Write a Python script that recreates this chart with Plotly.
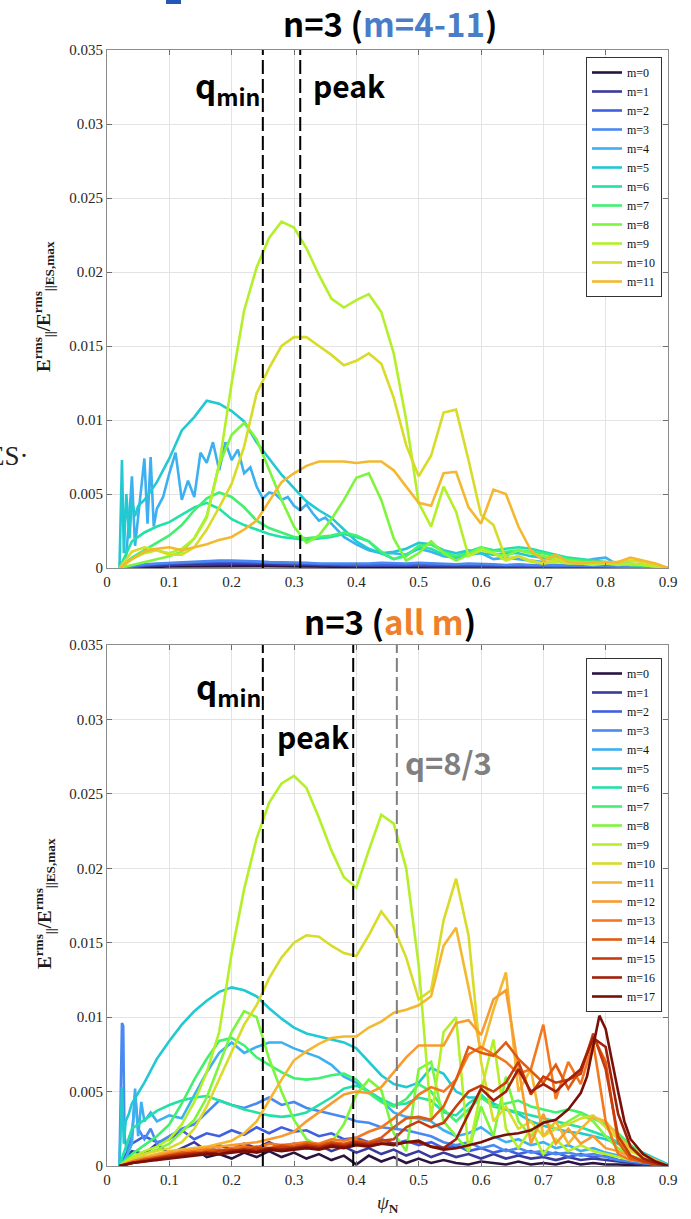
import plotly.graph_objects as go

# ---------------- data (values in units of 1e-3) ----------------
PSI = [0.02, 0.04, 0.06, 0.08, 0.10, 0.12, 0.14, 0.16, 0.18, 0.20, 0.22, 0.24, 0.26, 0.28, 0.30,
       0.32, 0.34, 0.36, 0.38, 0.40, 0.42, 0.44, 0.46, 0.48, 0.50, 0.52, 0.54, 0.56, 0.58, 0.60,
       0.62, 0.64, 0.66, 0.68, 0.70, 0.72, 0.74, 0.76, 0.78, 0.80, 0.82, 0.84, 0.86, 0.88, 0.90]

# ---- top panel: n=3 (m=4-11) ----
TOP_M0 = [0, 0.04, 0.06, 0.08, 0.1, 0.11, 0.12, 0.13, 0.14, 0.14, 0.13, 0.12, 0.12, 0.11, 0.1, 0.1, 0.09, 0.08, 0.08, 0.07, 0.07, 0.08, 0.07, 0.07, 0.08, 0.07, 0.06, 0.06, 0.06, 0.06, 0.05, 0.05, 0.05, 0.04, 0.04, 0.04, 0.04, 0.03, 0.03, 0.03, 0.02, 0.02, 0.01, 0.01, 0]
TOP_M1 = [0, 0.08, 0.12, 0.15, 0.2, 0.22, 0.25, 0.28, 0.3, 0.3, 0.28, 0.26, 0.24, 0.22, 0.2, 0.2, 0.18, 0.16, 0.15, 0.14, 0.15, 0.16, 0.14, 0.13, 0.15, 0.13, 0.12, 0.12, 0.13, 0.12, 0.1, 0.1, 0.1, 0.09, 0.08, 0.08, 0.08, 0.07, 0.07, 0.06, 0.05, 0.04, 0.03, 0.02, 0]
TOP_M2 = [0, 0.1, 0.2, 0.25, 0.3, 0.35, 0.38, 0.4, 0.42, 0.42, 0.4, 0.38, 0.35, 0.32, 0.3, 0.28, 0.26, 0.25, 0.22, 0.2, 0.22, 0.25, 0.22, 0.2, 0.25, 0.22, 0.2, 0.18, 0.2, 0.2, 0.18, 0.15, 0.18, 0.15, 0.15, 0.12, 0.15, 0.12, 0.12, 0.1, 0.08, 0.06, 0.04, 0.03, 0]
TOP_M3 = [0, 0.15, 0.25, 0.3, 0.35, 0.4, 0.45, 0.5, 0.5, 0.5, 0.5, 0.45, 0.4, 0.4, 0.35, 0.35, 0.3, 0.3, 0.25, 0.25, 0.3, 0.35, 0.3, 0.3, 0.35, 0.3, 0.3, 0.25, 0.3, 0.3, 0.25, 0.2, 0.25, 0.2, 0.2, 0.15, 0.2, 0.15, 0.2, 0.15, 0.1, 0.1, 0.05, 0.05, 0]
TOP_M4_PSI = ([0.02, 0.03, 0.035, 0.04, 0.045, 0.05, 0.055, 0.06, 0.065, 0.07, 0.075, 0.08,
               0.09, 0.10, 0.11, 0.12, 0.13, 0.14, 0.15, 0.16, 0.17, 0.18, 0.19, 0.20, 0.21, 0.22,
               0.23, 0.24, 0.25, 0.26, 0.27, 0.28, 0.29, 0.30, 0.31, 0.32, 0.33, 0.34, 0.35, 0.36]
              + PSI[18:])
TOP_M4 = [0, 0.5, 3.0, 6.2, 1.5, 3.5, 5.5, 7.4, 3.0, 7.5, 2.8, 4.0,
          4.8, 6.4, 7.8, 4.6, 5.9, 4.8, 7.8, 7.1, 8.5, 6.6, 8.5, 7.3, 8.0, 6.4, 6.8, 5.5, 4.7, 5.1,
          5.0, 4.6, 4.8, 4.2, 3.9, 4.3, 3.7, 3.2, 3.4, 3.0,
          2.1, 1.6, 1.2, 1.0, 1.0, 0.9, 1.3, 1.1, 0.8, 0.7, 0.9, 1.0, 0.6, 0.7, 0.6, 0.5, 0.4, 0.4,
          0.5, 0.4, 0.6, 0.7, 0.2, 0.2, 0.1, 0.1, 0]
TOP_M5_PSI = [0.02, 0.024, 0.027, 0.031, 0.036, 0.04, 0.045, 0.05, 0.06] + PSI[3:]
TOP_M5 = [0, 7.3, 1.0, 5.0, 2.0, 4.5, 3.5, 4.2, 4.6,
          5.8, 7.4, 9.3, 10.2, 11.3, 11.1, 10.6, 9.9, 8.5, 7.4, 6.3, 5.4, 4.5, 3.9, 3.4, 2.6, 1.8,
          1.3, 1.0, 1.1, 1.3, 1.7, 1.6, 1.2, 1.0, 1.2, 1.0, 0.9, 1.0, 1.0, 0.8, 0.7, 0.6, 0.5, 0.4,
          0.4, 0.3, 0.3, 0.2, 0.2, 0.1, 0]
TOP_M6 = [0, 1.8, 2.4, 2.8, 3.1, 3.6, 4.1, 4.4, 4.0, 3.3, 2.9, 2.6, 2.3, 2.1, 2.0, 1.9, 2.0, 2.1, 2.3, 2.1, 1.8, 1.0, 0.6, 0.9, 1.4, 1.3, 0.9, 0.8, 1.1, 1.4, 1.2, 1.3, 1.4, 1.3, 1.1, 0.9, 0.7, 0.6, 0.5, 0.4, 0.3, 0.3, 0.2, 0.1, 0]
TOP_M7 = [0, 0.7, 1.2, 1.7, 2.2, 2.9, 3.9, 4.7, 5.1, 4.8, 4.1, 3.2, 2.7, 2.4, 2.1, 2.0, 2.1, 2.2, 2.4, 2.2, 1.8, 1.1, 0.6, 0.8, 1.5, 1.6, 1.1, 0.8, 1.0, 1.3, 1.2, 1.1, 1.2, 1.1, 1.0, 0.8, 0.6, 0.5, 0.4, 0.3, 0.3, 0.2, 0.2, 0.1, 0]
TOP_M8 = [0, 0.2, 0.4, 0.6, 0.8, 1.1, 2.0, 3.5, 7.0, 9.0, 9.8, 8.7, 6.7, 4.6, 2.8, 1.7, 2.2, 3.3, 4.6, 6.1, 6.4, 4.6, 2.0, 0.5, 1.0, 1.8, 1.0, 0.5, 0.9, 1.4, 1.0, 0.8, 1.2, 1.0, 0.8, 0.6, 0.5, 0.4, 0.3, 0.3, 0.3, 0.2, 0.2, 0.1, 0]
TOP_M9 = [0, 0.6, 1.0, 1.2, 1.0, 1.3, 2.0, 3.4, 7.0, 12.5, 17.4, 20.3, 22.3, 23.4, 23.0, 21.6, 19.8, 18.2, 17.6, 18.1, 18.5, 17.3, 14.5, 10.0, 4.4, 2.8, 5.5, 3.8, 0.8, 1.2, 1.0, 0.5, 0.8, 0.4, 0.3, 0.4, 0.3, 0.3, 0.2, 0.3, 0.2, 0.3, 0.2, 0.1, 0]
TOP_M10 = [0, 1.1, 1.4, 1.2, 0.9, 0.9, 1.4, 2.6, 4.1, 5.7, 8.2, 11.8, 13.5, 15.0, 15.6, 15.6, 15.0, 14.4, 13.7, 14.0, 14.5, 13.8, 11.5, 8.3, 6.2, 7.6, 10.5, 10.7, 7.3, 3.6, 2.9, 0.6, 0.8, 0.5, 0.3, 0.6, 0.4, 0.3, 0.4, 0.3, 0.4, 0.5, 0.4, 0.2, 0]
TOP_M11 = [0, 0.6, 1.1, 1.3, 1.4, 1.2, 1.4, 1.6, 1.9, 2.1, 2.6, 3.2, 4.5, 5.8, 6.4, 6.9, 7.2, 7.2, 7.2, 7.1, 7.2, 7.2, 6.6, 5.5, 4.4, 4.2, 6.4, 6.5, 4.1, 3.0, 5.3, 5.0, 2.8, 1.2, 0.5, 0.9, 0.4, 0.3, 0.4, 0.4, 0.4, 0.7, 0.5, 0.3, 0]

# ---- bottom panel: n=3 (all m) ----
BOT_M0 = [0, 0.3, 0.5, 0.4, 0.6, 0.9, 1.2, 0.6, 0.8, 0.5, 0.9, 0.6, 1.0, 0.6, 0.9, 0.5, 0.8, 0.4, 0.7, 0.1, 0.7, 0.3, 0.6, 0.2, 0.5, 0.2, 0.4, 0.2, 0.1, 0.3, 0.2, 0.1, 0.3, 0.1, 0.2, 0.1, 0.3, 0.1, 0.2, 0.1, 0.1, 0.05, 0.05, 0, 0]
BOT_M1 = [0, 1.0, 0.8, 1.5, 0.8, 1.2, 1.6, 1.0, 1.4, 1.1, 1.5, 1.2, 1.6, 1.2, 1.5, 1.2, 1.4, 1.0, 1.3, 0.9, 1.2, 0.8, 1.1, 0.7, 1.0, 0.6, 0.9, 0.6, 0.8, 0.5, 0.8, 0.5, 0.7, 0.5, 0.6, 0.4, 0.6, 0.4, 0.5, 0.4, 0.3, 0.2, 0.1, 0.1, 0]
BOT_M2 = [0, 1.5, 2.0, 1.6, 1.8, 2.4, 1.8, 2.2, 2.0, 2.4, 2.1, 2.6, 2.2, 2.6, 2.3, 2.4, 2.0, 2.2, 1.8, 1.9, 1.6, 1.8, 1.5, 1.7, 1.4, 1.6, 1.2, 1.4, 1.0, 1.2, 0.9, 1.1, 0.8, 1.0, 0.7, 0.9, 0.6, 0.8, 0.6, 0.7, 0.4, 0.3, 0.2, 0.1, 0]
BOT_M3_PSI = [0.02, 0.024, 0.026, 0.028, 0.032, 0.036, 0.04, 0.045, 0.05, 0.06, 0.07, 0.08] + PSI[4:]
BOT_M3 = [0, 9.6, 9.4, 2.0, 1.0, 1.5, 2.0, 4.8, 2.5, 1.8, 2.5, 1.5,
          2.0, 2.5, 2.8, 3.6, 4.4, 4.1, 3.9, 4.2, 4.6, 4.1, 4.3, 3.9, 3.7, 3.5, 3.3, 3.0, 2.9, 2.6,
          2.5, 2.4, 2.2, 2.0, 1.6, 1.4, 1.6, 1.2, 1.4, 1.0, 1.2, 0.9, 1.0, 0.8, 0.9, 0.7, 0.8, 0.6,
          0.4, 0.3, 0.2, 0.1, 0]
BOT_M4_PSI = [0.02, 0.03, 0.04, 0.045, 0.05, 0.055, 0.06, 0.07, 0.08] + PSI[4:]
BOT_M4 = [0, 0.5, 1.5, 5.2, 2.0, 4.3, 3.0, 3.6, 3.0,
          3.4, 3.2, 4.8, 6.3, 7.6, 8.3, 7.6, 8.0, 8.3, 8.3, 7.9, 7.6, 7.3, 6.8, 6.0, 5.6, 5.0, 4.4,
          3.6, 3.3, 3.2, 3.0, 2.4, 2.0, 2.2, 2.6, 2.0, 1.6, 1.8, 1.4, 1.6, 1.2, 1.4, 1.0, 1.2, 0.9,
          0.7, 0.4, 0.3, 0.2, 0]
BOT_M5_PSI = [0.02, 0.024, 0.027, 0.03, 0.035, 0.04] + PSI[2:]
BOT_M5 = [0, 5.3, 1.5, 3.0, 3.5, 4.2,
          5.6, 7.2, 8.4, 9.5, 10.4, 11.1, 11.7, 12.0, 11.8, 11.4, 10.6, 9.9, 9.3, 8.9, 8.7, 8.5,
          8.3, 7.9, 7.0, 6.1, 5.5, 5.3, 5.6, 6.6, 6.2, 5.0, 4.6, 4.6, 4.2, 3.8, 3.5, 3.0, 2.7, 2.5,
          2.3, 2.2, 2.0, 1.8, 1.5, 1.2, 0.9, 0.5, 0.1]
BOT_M6 = [0, 2.5, 3.1, 3.7, 4.1, 4.4, 4.6, 4.7, 4.4, 4.1, 3.8, 3.6, 3.4, 3.3, 3.4, 3.6, 4.1, 4.6, 5.2, 5.4, 5.0, 4.5, 4.1, 4.2, 4.6, 4.4, 3.6, 3.4, 4.2, 4.8, 4.0, 3.8, 3.6, 3.4, 3.2, 3.0, 2.8, 2.6, 2.3, 2.0, 1.6, 1.1, 0.6, 0.3, 0]
BOT_M7 = [0, 0.8, 1.4, 2.0, 2.8, 4.2, 5.8, 7.2, 8.4, 8.6, 8.1, 7.3, 6.8, 6.3, 5.9, 5.8, 5.9, 6.1, 6.2, 5.8, 4.9, 4.3, 4.0, 4.5, 5.5, 5.0, 3.8, 3.0, 3.8, 4.6, 4.0, 4.2, 4.4, 4.0, 3.8, 3.6, 3.8, 3.6, 3.2, 2.8, 2.2, 1.4, 0.8, 0.3, 0]
BOT_M8 = [0, 0.4, 0.8, 1.1, 1.5, 2.3, 3.1, 4.6, 6.8, 9.0, 10.4, 10.0, 7.2, 5.0, 3.1, 1.8, 1.3, 1.6, 2.8, 4.8, 5.8, 5.1, 2.2, 1.0, 6.5, 7.0, 3.0, 2.0, 1.0, 4.0, 2.0, 6.0, 3.0, 2.0, 3.0, 2.5, 3.0, 3.5, 3.0, 2.0, 1.2, 0.7, 0.4, 0.2, 0]
BOT_M9 = [0, 0.6, 1.0, 1.3, 1.8, 2.8, 4.3, 6.3, 9.0, 14.3, 18.6, 22.0, 24.4, 25.7, 26.2, 25.4, 23.4, 21.2, 19.4, 18.7, 21.2, 23.6, 23.0, 20.0, 13.5, 3.2, 9.0, 10.0, 1.0, 5.0, 8.5, 2.5, 1.2, 2.5, 0.8, 1.8, 1.0, 1.4, 1.0, 0.8, 0.6, 0.4, 0.3, 0.2, 0]
BOT_M10 = [0, 0.5, 0.8, 1.0, 1.2, 1.6, 2.5, 4.0, 5.8, 7.6, 9.5, 10.8, 12.6, 14.0, 15.0, 15.5, 15.4, 14.8, 14.3, 14.1, 15.5, 17.1, 16.0, 14.0, 11.2, 11.8, 16.5, 19.3, 15.5, 7.0, 3.0, 4.0, 2.5, 3.0, 2.0, 2.5, 2.8, 3.2, 3.4, 2.6, 1.8, 1.0, 0.6, 0.3, 0]
BOT_M11 = [0, 0.3, 0.6, 0.8, 1.0, 1.1, 1.2, 1.3, 1.5, 1.7, 2.2, 3.0, 4.4, 5.8, 7.1, 7.7, 8.2, 8.6, 8.7, 8.7, 9.3, 9.7, 10.3, 10.5, 10.8, 11.4, 14.8, 16.0, 12.0, 7.6, 10.5, 13.0, 5.0, 6.5, 2.0, 3.0, 1.5, 2.5, 3.3, 3.0, 2.0, 1.2, 0.8, 0.4, 0]
BOT_M12 = [0, 0.3, 0.5, 0.7, 0.9, 1.0, 1.1, 1.2, 1.3, 1.4, 1.5, 1.6, 1.8, 2.0, 2.3, 3.0, 3.6, 4.2, 4.8, 5.0, 4.9, 5.3, 6.3, 7.3, 8.1, 8.1, 8.1, 9.6, 9.8, 8.8, 11.2, 11.8, 6.5, 1.5, 3.5, 1.5, 2.5, 1.5, 2.0, 1.2, 1.0, 0.6, 0.4, 0.2, 0]
BOT_M13 = [0, 0.3, 0.5, 0.6, 0.8, 0.9, 1.0, 1.1, 1.0, 1.2, 1.3, 1.2, 1.5, 1.4, 1.5, 1.6, 1.5, 1.8, 1.7, 1.9, 2.3, 2.6, 3.2, 3.9, 4.8, 5.3, 5.0, 5.8, 7.5, 8.0, 7.5, 7.0, 6.2, 6.5, 9.5, 4.5, 7.0, 5.5, 8.3, 3.0, 0.8, 0.4, 0.3, 0.2, 0]
BOT_M14 = [0, 0.2, 0.4, 0.6, 0.7, 0.9, 0.8, 1.0, 1.1, 1.0, 1.2, 1.3, 1.2, 1.4, 1.3, 1.5, 1.4, 1.6, 1.5, 1.7, 1.6, 1.9, 2.6, 3.2, 3.3, 3.1, 4.0, 5.8, 8.0, 7.6, 7.4, 8.3, 7.2, 6.4, 5.6, 6.8, 5.2, 6.5, 8.7, 7.0, 1.6, 0.5, 0.3, 0.1, 0]
BOT_M15 = [0, 0.2, 0.4, 0.5, 0.7, 0.8, 0.9, 0.8, 1.0, 1.1, 1.0, 1.2, 1.1, 1.3, 1.2, 1.4, 1.3, 1.5, 1.4, 1.6, 1.5, 1.7, 1.8, 2.6, 3.0, 2.6, 2.9, 4.0, 5.0, 5.4, 5.0, 5.6, 7.0, 4.8, 6.0, 5.6, 5.8, 6.2, 8.9, 6.5, 2.0, 0.7, 0.3, 0.1, 0]
BOT_M16 = [0, 0.2, 0.3, 0.5, 0.6, 0.7, 0.8, 0.9, 0.8, 1.0, 1.1, 1.0, 1.2, 1.1, 1.2, 1.3, 1.2, 1.4, 1.3, 1.5, 1.4, 1.5, 1.5, 1.6, 1.6, 1.3, 1.2, 1.8, 3.5, 5.2, 4.4, 5.0, 6.5, 5.0, 5.5, 5.0, 5.8, 6.5, 8.6, 8.0, 3.5, 1.3, 0.5, 0.2, 0]
BOT_M17_PSI = PSI[:38] + [0.77, 0.78, 0.79, 0.80, 0.81, 0.82, 0.83, 0.84, 0.86, 0.88, 0.90]
BOT_M17 = [0, 0.2, 0.3, 0.4, 0.5, 0.6, 0.7, 0.8, 0.8, 0.9, 1.0, 0.9, 1.1, 1.0, 1.1, 1.2, 1.1, 1.3, 1.2,
           1.4, 1.3, 1.5, 1.4, 1.6, 1.7, 1.3, 1.1, 1.2, 1.4, 1.6, 1.9, 2.1, 2.2, 2.4, 2.9, 3.1, 3.8, 4.9,
           6.0, 8.0, 10.1, 9.2, 7.0, 5.0, 3.0, 1.8, 0.8, 0.3, 0]

M_COLORS = ["#2b1340", "#3a3a9c", "#3f5fe0", "#4a8af0", "#3cb0f0", "#22c8d2", "#22e0a8",
            "#40f070", "#7cf53c", "#b4f02a", "#d8dc28", "#f4b830", "#f89c30", "#f47820",
            "#e05a10", "#c83c0c", "#a0200a", "#781008"]

TOP_SERIES = [(PSI, TOP_M0), (PSI, TOP_M1), (PSI, TOP_M2), (PSI, TOP_M3), (TOP_M4_PSI, TOP_M4),
              (TOP_M5_PSI, TOP_M5), (PSI, TOP_M6), (PSI, TOP_M7), (PSI, TOP_M8), (PSI, TOP_M9),
              (PSI, TOP_M10), (PSI, TOP_M11)]
BOT_SERIES = [(PSI, BOT_M0), (PSI, BOT_M1), (PSI, BOT_M2), (BOT_M3_PSI, BOT_M3), (BOT_M4_PSI, BOT_M4),
              (BOT_M5_PSI, BOT_M5), (PSI, BOT_M6), (PSI, BOT_M7), (PSI, BOT_M8), (PSI, BOT_M9),
              (PSI, BOT_M10), (PSI, BOT_M11), (PSI, BOT_M12), (PSI, BOT_M13), (PSI, BOT_M14),
              (PSI, BOT_M15), (PSI, BOT_M16), (BOT_M17_PSI, BOT_M17)]

TOP_LINES = [0.25, 0.31]
BOT_LINES = [0.25, 0.395]
BOT_Q83 = 0.465

X_TICKS = [0, 0.1, 0.2, 0.3, 0.4, 0.5, 0.6, 0.7, 0.8, 0.9]
X_TICK_TEXT = ["0", "0.1", "0.2", "0.3", "0.4", "0.5", "0.6", "0.7", "0.8", "0.9"]
Y_TICKS = [0, 0.005, 0.01, 0.015, 0.02, 0.025, 0.03, 0.035]
Y_TICK_TEXT = ["0", "0.005", "0.01", "0.015", "0.02", "0.025", "0.03", "0.035"]

for xs, ys in TOP_SERIES + BOT_SERIES:
    assert len(xs) == len(ys), (len(xs), len(ys))

# ---------------- figure ----------------
W, H = 691, 1219


def px_x(p):
    return p / W


def px_y(p):
    return 1 - p / H


fig = go.Figure()
for m, (xs, ys) in enumerate(TOP_SERIES):
    fig.add_trace(go.Scatter(x=xs, y=[v / 1000 for v in ys], mode="lines", name=f"m={m}",
                             line=dict(color=M_COLORS[m], width=2.6), xaxis="x", yaxis="y",
                             legend="legend"))
for m, (xs, ys) in enumerate(BOT_SERIES):
    fig.add_trace(go.Scatter(x=xs, y=[v / 1000 for v in ys], mode="lines", name=f"m={m}",
                             line=dict(color=M_COLORS[m], width=2.6), xaxis="x2", yaxis="y2",
                             legend="legend2"))

serif = "Liberation Serif"
axis_common = dict(showgrid=True, gridcolor="#e3e3e3", gridwidth=1, showline=True,
                   linecolor="#8c8c8c", linewidth=1, mirror="ticks", ticks="inside", ticklen=5,
                   tickcolor="#6e6e6e", zeroline=False,
                   tickfont=dict(family=serif, size=15, color="#262626"))
xdom = [px_x(107), px_x(668)]
legend_common = dict(xanchor="right", yanchor="top", bgcolor="white", bordercolor="#333333",
                     borderwidth=1, font=dict(family=serif, size=12, color="#111"),
                     tracegroupgap=0, itemwidth=30)
fig.update_layout(
    width=W, height=H, margin=dict(l=0, r=0, t=0, b=0, autoexpand=False),
    paper_bgcolor="white", plot_bgcolor="white", showlegend=True,
    xaxis=dict(domain=xdom, anchor="y", range=[0, 0.9], tickvals=X_TICKS, ticktext=X_TICK_TEXT, **axis_common),
    yaxis=dict(domain=[px_y(568), px_y(50)], anchor="x", range=[0, 0.035], tickvals=Y_TICKS,
               ticktext=Y_TICK_TEXT, **axis_common),
    xaxis2=dict(domain=xdom, anchor="y2", range=[0, 0.9], tickvals=X_TICKS, ticktext=X_TICK_TEXT, **axis_common),
    yaxis2=dict(domain=[px_y(1166), px_y(645)], anchor="x2", range=[0, 0.035], tickvals=Y_TICKS,
                ticktext=Y_TICK_TEXT, **axis_common),
    legend=dict(x=px_x(662), y=px_y(57), **legend_common),
    legend2=dict(x=px_x(662), y=px_y(658), **legend_common),
)

DASH = "14px,5px"
shapes = []
for xv in TOP_LINES:
    shapes.append(dict(type="line", xref="x", yref="y domain", x0=xv, x1=xv, y0=0, y1=1,
                       line=dict(color="black", width=2, dash=DASH)))
for xv in BOT_LINES:
    shapes.append(dict(type="line", xref="x2", yref="y2 domain", x0=xv, x1=xv, y0=0, y1=1,
                       line=dict(color="black", width=2, dash=DASH)))
shapes.append(dict(type="line", xref="x2", yref="y2 domain", x0=BOT_Q83, x1=BOT_Q83, y0=0, y1=1,
                   line=dict(color="#7f7f7f", width=2, dash=DASH)))
# cropped blue mark at the very top of the source page
shapes.append(dict(type="rect", xref="paper", yref="paper", x0=px_x(166), x1=px_x(181),
                   y0=px_y(4), y1=1, line=dict(width=0), fillcolor="#2456b8"))
fig.update_layout(shapes=shapes)

sans = "Noto Sans CJK KR"


def note(text, x, y, size, color="black", family=sans, **kw):
    d = dict(text=text, x=px_x(x), y=px_y(y), xref="paper", yref="paper", showarrow=False,
             xanchor="center", yanchor="middle", font=dict(family=family, size=size, color=color))
    d.update(kw)
    return d


ann = [
    note("<b>n=3 (<span style='color:#4a7cc8'>m=4-11</span>)</b>", 390, 23, 33),
    note("<b>n=3 (<span style='color:#f07f2c'>all m</span>)</b>", 390, 621, 33),
    note("<b>q<sub>min</sub></b>", 227, 87, 33),
    note("<b>peak</b>", 349, 85, 30),
    note("<b>q<sub>min</sub></b>", 228, 688, 33),
    note("<b>peak</b>", 313, 736, 30),
    note("<b>q=8/3</b>", 448, 762, 31, color="#808080"),
]
ylab = "<b>E<sup>rms</sup><sub>||</sub>/E<sup>rms</sup><sub>||ES,max</sub></b>"
ann.append(note(ylab, 44, 306, 19, color="#1a1a1a", family=serif, textangle=-90))
ann.append(note(ylab, 44, 903, 19, color="#1a1a1a", family=serif, textangle=-90))
ann.append(note("<i>ψ</i><sub><b>N</b></sub>", 388, 1204, 19, color="#262626", family=serif))
ann.append(note("ES·", 31, 456, 27, color="#222", family=serif, xanchor="right"))
fig.update_layout(annotations=ann)

fig.write_html("out.html")
